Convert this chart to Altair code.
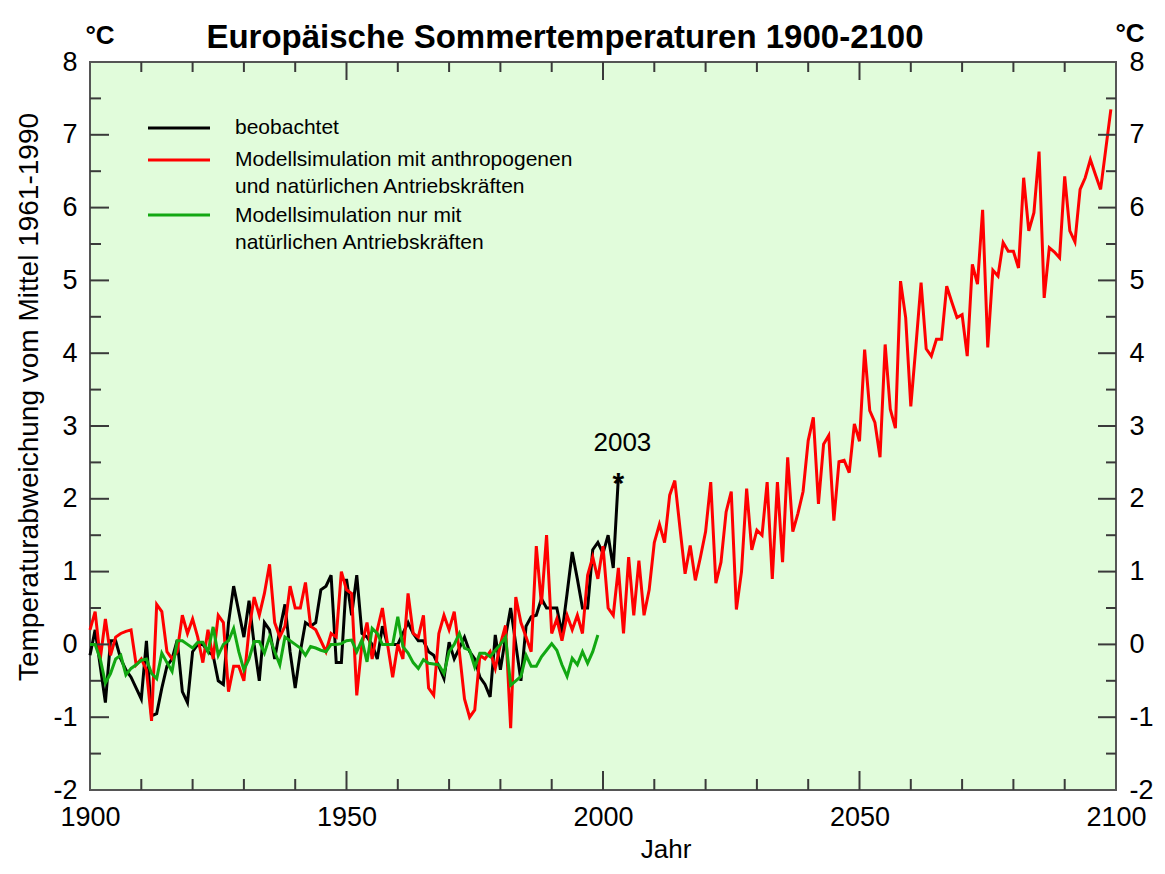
import altair as alt
import pandas as pd

# ---------------- data ----------------
years_obs = list(range(1900, 2004))
beobachtet = [
    -0.15, 0.2, -0.3, -0.8, 0.05, 0.05, -0.2, -0.35, -0.45, -0.6,      # 1900-1909
    -0.75, 0.05, -0.98, -0.95, -0.6, -0.3, -0.2, 0.06, -0.65, -0.8,    # 1910-1919
    -0.1, 0.0, 0.0, -0.1, -0.15, -0.5, -0.55, 0.3, 0.8, 0.45,          # 1920-1929
    0.1, 0.6, 0.0, -0.5, 0.3, 0.2, -0.2, 0.2, 0.55, -0.1,              # 1930-1939
    -0.6, -0.1, 0.3, 0.25, 0.3, 0.75, 0.8, 0.95, -0.25, -0.25,         # 1940-1949
    0.9, 0.4, 0.95, 0.15, 0.1, 0.0, -0.2, 0.25, 0.0, 0.0,              # 1950-1959
    0.0, 0.15, 0.3, 0.15, 0.05, 0.05, -0.1, -0.15, -0.3, -0.47,        # 1960-1969
    0.03, -0.2, -0.05, 0.1, -0.1, -0.2, -0.45, -0.55, -0.72, 0.13,     # 1970-1979
    -0.35, 0.1, 0.5, 0.0, -0.5, 0.25, 0.38, 0.4, 0.63, 0.5,            # 1980-1989
    0.5, 0.5, 0.15, 0.7, 1.27, 0.9, 0.5, 0.5, 1.3, 1.4,                # 1990-1999
    1.25, 1.5, 1.05, 2.3,                                              # 2000-2003
]

years_model = list(range(1900, 2100))
anthropogen = [
    0.2, 0.45, -0.2, 0.35, -0.15, 0.1, 0.15, 0.18, 0.2, -0.28,         # 1900
    -0.2, -0.35, -1.05, 0.55, 0.45, -0.1, -0.2, -0.1, 0.4, 0.15,       # 1910
    0.35, 0.1, -0.25, 0.2, -0.2, 0.4, 0.3, -0.65, -0.3, -0.3,          # 1920
    -0.5, 0.2, 0.65, 0.4, 0.7, 1.1, 0.3, 0.1, 0.25, 0.8,               # 1930
    0.5, 0.5, 0.85, 0.25, 0.2, 0.05, -0.1, 0.15, 0.1, 1.0,             # 1940
    0.75, 0.7, -0.7, 0.0, 0.3, -0.2, 0.2, 0.5, 0.0, -0.45,             # 1950
    0.0, -0.2, 0.7, 0.15, 0.1, 0.4, -0.6, -0.7, 0.15, 0.4,             # 1960
    0.2, 0.45, -0.1, -0.75, -1.0, -0.9, -0.15, -0.2, -0.1, -0.33,      # 1970
    0.0, 0.26, -1.15, 0.65, 0.3, 0.1, -0.1, 1.35, 0.55, 1.5,           # 1980
    0.15, 0.35, 0.05, 0.4, 0.2, 0.4, 0.15, 0.95, 1.2, 0.9,             # 1990
    1.35, 0.5, 0.4, 1.05, 0.15, 1.2, 0.4, 1.15, 0.4, 0.75,             # 2000
    1.4, 1.65, 1.4, 2.05, 2.25, 1.6, 0.97, 1.36, 0.88, 1.2,            # 2010
    1.55, 2.23, 0.84, 1.13, 1.82, 2.1, 0.48, 1.0, 2.14, 1.3,           # 2020
    1.57, 1.5, 2.23, 0.9, 2.23, 1.13, 2.57, 1.55, 1.8, 2.1,            # 2030
    2.8, 3.12, 1.93, 2.75, 2.87, 1.7, 2.51, 2.53, 2.36, 3.03,          # 2040
    2.79, 4.05, 3.21, 3.05, 2.57, 4.12, 3.23, 2.97, 4.99, 4.49,        # 2050
    3.27, 4.1, 4.97, 4.06, 3.96, 4.19, 4.19, 4.92, 4.7, 4.49,          # 2060
    4.53, 3.96, 5.22, 4.95, 5.97, 4.08, 5.14, 5.06, 5.52, 5.4,         # 2070
    5.4, 5.17, 6.41, 5.68, 5.93, 6.77, 4.76, 5.45, 5.39, 5.31,         # 2080
    6.43, 5.68, 5.53, 6.25, 6.41, 6.66, 6.45, 6.25, 6.8, 7.35,         # 2090
]

years_nat = list(range(1900, 2000))
natuerlich = [
    0.0, 0.0, -0.2, -0.53, -0.4, -0.2, -0.15, -0.42, -0.33, -0.28,     # 1900
    -0.22, -0.2, -0.4, -0.47, -0.12, -0.25, -0.37, 0.05, 0.05, 0.0,    # 1910
    -0.05, 0.03, 0.03, -0.1, 0.24, -0.15, 0.0, 0.05, 0.22, -0.1,       # 1920
    -0.35, -0.2, 0.04, 0.04, -0.12, 0.1, -0.1, -0.28, 0.1, 0.05,       # 1930
    0.0, -0.05, -0.15, -0.03, -0.05, -0.08, -0.1, 0.0, 0.0, 0.01,      # 1940
    0.05, 0.06, -0.1, 0.06, -0.24, 0.22, 0.15, 0.0, 0.0, 0.0,          # 1950
    0.38, -0.03, -0.12, -0.25, -0.33, -0.21, -0.26, -0.27, -0.28, -0.4,  # 1960
    -0.1, 0.0, 0.15, -0.05, -0.08, -0.31, -0.12, -0.12, -0.17, -0.08,  # 1970
    0.0, 0.1, -0.56, -0.5, -0.44, -0.15, -0.3, -0.3, -0.17, -0.08,     # 1980
    0.01, -0.08, -0.28, -0.44, -0.19, -0.28, -0.1, -0.26, -0.1, 0.13,  # 1990
]

x_ticks_minor = [1910, 1920, 1930, 1940, 1960, 1970, 1980, 1990,
                 2010, 2020, 2030, 2040, 2060, 2070, 2080, 2090]
x_ticks_major = [1950, 2000, 2050]
x_labels = [1900, 1950, 2000, 2050, 2100]
y_ticks_minor = [-1.5, -0.5, 0.5, 1.5, 2.5, 3.5, 4.5, 5.5, 6.5, 7.5]
y_ticks_major = [-1, 0, 1, 2, 3, 4, 5, 6, 7]
y_labels = [-2, -1, 0, 1, 2, 3, 4, 5, 6, 7, 8]

legend_labels = [
    "beobachtet",
    "Modellsimulation mit anthropogenen",
    "und natürlichen Antriebskräften",
    "Modellsimulation nur mit",
    "natürlichen Antriebskräften",
]
annotation_year = [2003]
annotation_value = [2.3]

assert len(beobachtet) == len(years_obs)
assert len(anthropogen) == len(years_model)
assert len(natuerlich) == len(years_nat)

# ---------------- layout ----------------
W, H = 1026, 728
FONT = "Liberation Sans"
BG = "#e1fcdb"
RED = "#ff0000"
GREEN = "#12a812"

xs = alt.Scale(domain=[1900, 2100], nice=False, zero=False)
ys = alt.Scale(domain=[-2, 8], nice=False, zero=False)

df_obs = pd.DataFrame({"Jahr": years_obs, "T": beobachtet})
df_ant = pd.DataFrame({"Jahr": years_model, "T": anthropogen})
df_nat = pd.DataFrame({"Jahr": years_nat, "T": natuerlich})

LBL = "'' + datum.value"  # plain hyphen for negatives
left_axis = alt.Axis(orient="left", values=y_labels, ticks=False, domain=False, grid=False,
                     labelFontSize=27, labelPadding=13, labelColor="black", title=None,
                     labelFont=FONT, labelFlush=False, labelExpr=LBL)
right_axis = alt.Axis(orient="right", values=y_labels, ticks=False, domain=False, grid=False,
                      labelFontSize=27, labelPadding=13, labelColor="black", title=None,
                      labelFont=FONT, labelFlush=False, labelExpr=LBL)
x_axis = alt.Axis(orient="bottom", values=x_labels, ticks=False, domain=False, grid=False,
                  labelFontSize=27, labelPadding=14, labelColor="black", title=None,
                  labelFont=FONT, labelFlush=False, labelOverlap=False, labelExpr=LBL)

obs_line = alt.Chart(df_obs).mark_line(color="black", strokeWidth=3).encode(
    x=alt.X("Jahr:Q", scale=xs, axis=x_axis),
    y=alt.Y("T:Q", scale=ys, axis=left_axis),
)
ant_line = alt.Chart(df_ant).mark_line(color=RED, strokeWidth=3).encode(
    x=alt.X("Jahr:Q", scale=xs, axis=None),
    y=alt.Y("T:Q", scale=ys, axis=right_axis),
)
nat_line = alt.Chart(df_nat).mark_line(color=GREEN, strokeWidth=3).encode(
    x=alt.X("Jahr:Q", scale=xs, axis=None),
    y=alt.Y("T:Q", scale=ys, axis=None),
)

TICK = "#3a3a3a"
def xtick_layer(vals, y0, y1):
    return alt.Chart(pd.DataFrame({"t": vals})).mark_rule(color=TICK, strokeWidth=2).encode(
        x=alt.X("t:Q", scale=xs, axis=None), y=alt.value(y0), y2=alt.value(y1))

def ytick_layer(vals, x0, x1):
    return alt.Chart(pd.DataFrame({"t": vals})).mark_rule(color=TICK, strokeWidth=2).encode(
        y=alt.Y("t:Q", scale=ys, axis=None), x=alt.value(x0), x2=alt.value(x1))

ticks = [
    xtick_layer(x_ticks_minor, H, H - 11), xtick_layer(x_ticks_major, H, H - 19),
    xtick_layer(x_ticks_minor, 0, 10), xtick_layer(x_ticks_major, 0, 18),
    ytick_layer(y_ticks_minor, 0, 11), ytick_layer(y_ticks_major, 0, 19),
    ytick_layer(y_ticks_minor, W, W - 10), ytick_layer(y_ticks_major, W, W - 18),
]

# legend (drawn inside the plot area)
leg_lines = pd.DataFrame({"y": [66, 98, 153], "c": ["black", RED, GREEN]})
legend_rules = alt.Chart(leg_lines).mark_rule(strokeWidth=3).encode(
    x=alt.value(58), x2=alt.value(120), y=alt.Y("y:Q", scale=None),
    color=alt.Color("c:N", scale=None))
leg_text = pd.DataFrame({"label": legend_labels, "y": [66, 98, 125, 154, 181]})
legend_texts = alt.Chart(leg_text).mark_text(align="left", baseline="middle", fontSize=21,
                                             font=FONT, color="black").encode(
    x=alt.value(145), y=alt.Y("y:Q", scale=None), text="label:N")

def label(text, x, y, size, bold=False, angle=0, align="center"):
    return alt.Chart(pd.DataFrame({"s": [text]})).mark_text(
        align=align, baseline="middle", fontSize=size, font=FONT,
        fontWeight="bold" if bold else "normal", angle=angle, color="black"
    ).encode(x=alt.value(x), y=alt.value(y), text="s:N")

title = label("Europäische Sommertemperaturen 1900-2100", 475, -24, 33, bold=True)
unit_l = label("°C", 10, -26, 26, bold=True)
unit_r = label("°C", 1040, -28, 26, bold=True)
ytitle = label("Temperaturabweichung vom Mittel 1961-1990", -60, 335, 28, angle=270)
xtitle = label("Jahr", 576, 788, 26)

df_ann = pd.DataFrame({"Jahr": annotation_year, "T": annotation_value,
                       "lab": [str(v) for v in annotation_year], "star": ["*"]})
ann_year = alt.Chart(df_ann).mark_text(fontSize=26, font=FONT, dy=-34, dx=4,
                                       baseline="middle", color="black").encode(
    x=alt.X("Jahr:Q", scale=xs, axis=None), y=alt.Y("T:Q", scale=ys, axis=None), text="lab:N")
ann_star = alt.Chart(df_ann).mark_text(fontSize=30, font=FONT, fontWeight="bold", dy=16,
                                       baseline="alphabetic", color="black").encode(
    x=alt.X("Jahr:Q", scale=xs, axis=None), y=alt.Y("T:Q", scale=ys, axis=None), text="star:N")

chart = alt.layer(
    obs_line, ant_line, *ticks, nat_line,
    legend_rules, legend_texts, title, unit_l, unit_r, ytitle, xtitle, ann_year, ann_star,
).resolve_axis(x="independent", y="independent").properties(
    width=W, height=H,
    autosize=alt.AutoSizeParams(type="none"),
    padding={"left": 82, "top": 54, "right": 41, "bottom": 76},
    background="white",
).configure_view(fill=BG, stroke="#555555", strokeWidth=2)

chart.save("out.html", embed_options={"renderer": "svg", "actions": False})
